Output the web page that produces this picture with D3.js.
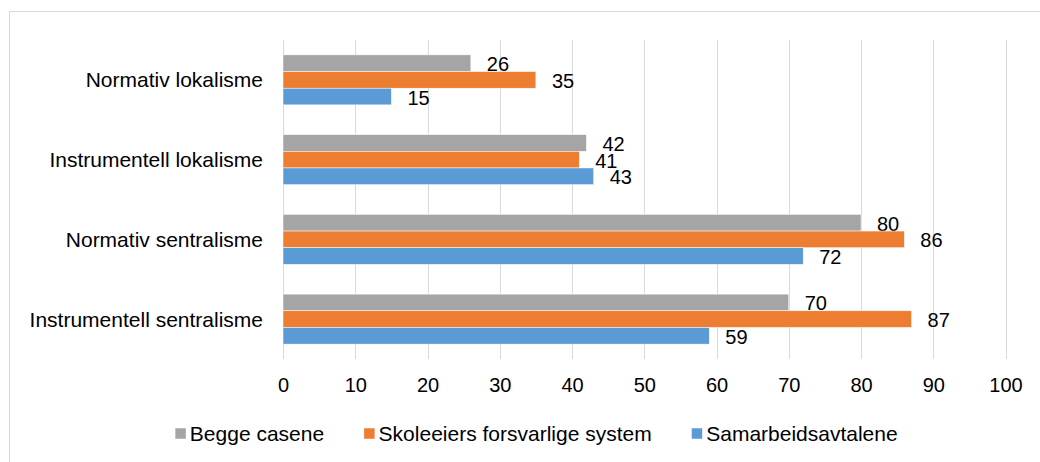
<!DOCTYPE html>
<html>
<head>
<meta charset="utf-8">
<script src="https://cdn.jsdelivr.net/npm/d3@7/dist/d3.min.js"></script>
<style>
  html, body { margin: 0; padding: 0; background: #fff; }
  svg { display: block; }
  text { font-family: "Liberation Sans", Arial, sans-serif; fill: #000; }
</style>
</head>
<body>
<svg id="chart" width="1040" height="462"></svg>
<script>
// Categories, top to bottom
const categories = [
  "Normativ lokalisme",
  "Instrumentell lokalisme",
  "Normativ sentralisme",
  "Instrumentell sentralisme"
];

// Series names, in the order the bars are stacked within each group (top to bottom)
const seriesNames = ["Begge casene", "Skoleeiers forsvarlige system", "Samarbeidsavtalene"];
const seriesColors = ["#A5A5A5", "#ED7D31", "#5B9BD5"];

// Values per series, aligned with categories
const beggeCasene = [26, 42, 80, 70];
const skoleeiers = [35, 41, 86, 87];
const samarbeid = [15, 43, 72, 59];

const xTicks = [0, 10, 20, 30, 40, 50, 60, 70, 80, 90, 100];

const seriesValues = [beggeCasene, skoleeiers, samarbeid];

const svg = d3.select("#chart");

// Chart-area frame (runs off the right and bottom edge)
svg.append("rect")
  .attr("x", 9.5).attr("y", 11.5)
  .attr("width", 1100).attr("height", 500)
  .attr("fill", "none")
  .attr("stroke", "#D9D9D9")
  .attr("stroke-width", 1);

const plot = { left: 283, right: 1005.5, top: 40, bottom: 359 };

const x = d3.scaleLinear().domain([0, 100]).range([plot.left, plot.right]);

const pad = 0.373;
const y = d3.scaleBand()
  .domain(categories)
  .range([plot.top, plot.bottom])
  .paddingInner(pad)
  .paddingOuter(pad / 2);

const ySub = d3.scaleBand()
  .domain(seriesNames)
  .range([0, y.bandwidth()])
  .padding(0);

// Vertical gridlines
svg.append("g")
  .selectAll("line")
  .data(xTicks)
  .join("line")
  .attr("x1", d => Math.round(x(d)) + 0.5)
  .attr("x2", d => Math.round(x(d)) + 0.5)
  .attr("y1", plot.top)
  .attr("y2", plot.bottom)
  .attr("stroke", "#D9D9D9")
  .attr("stroke-width", 1);

// X axis tick labels
const xAxis = d3.axisBottom(x).tickValues(xTicks).tickSize(0).tickPadding(0);
const gx = svg.append("g")
  .attr("transform", `translate(0, ${plot.bottom})`)
  .call(xAxis);
gx.select(".domain").remove();
gx.selectAll("text")
  .attr("dy", null)
  .attr("y", 33)
  .style("font-size", "20px")
  .style("font-family", "'Liberation Sans', Arial, sans-serif")
  .attr("fill", "#000");

// Category labels
const gy = svg.append("g")
  .attr("transform", `translate(${plot.left}, 0)`)
  .call(d3.axisLeft(y).tickSize(0).tickPadding(20));
gy.select(".domain").remove();
gy.selectAll("text")
  .attr("dy", null)
  .attr("y", 7.6)
  .style("font-size", "21px")
  .style("font-family", "'Liberation Sans', Arial, sans-serif")
  .attr("fill", "#000");

// Bars
const groups = svg.append("g")
  .selectAll("g")
  .data(categories)
  .join("g")
  .attr("transform", c => `translate(0, ${y(c)})`);

const rows = groups.selectAll("g.bar")
  .data((c, i) => seriesNames.map((s, k) => ({ series: s, k, value: seriesValues[k][i] })))
  .join("g")
  .attr("class", "bar");

rows.append("rect")
  .attr("x", x(0))
  .attr("y", d => ySub(d.series))
  .attr("width", d => x(d.value) - x(0))
  .attr("height", ySub.bandwidth())
  .attr("fill", d => seriesColors[d.k])
  .attr("stroke", "#fff")
  .attr("stroke-width", 0.5);

// Value labels at the bar ends
rows.append("text")
  .attr("x", d => x(d.value) + 16)
  .attr("y", d => ySub(d.series) + ySub.bandwidth() / 2 + 8)
  .style("font-size", "20px")
  .text(d => d.value);

// Legend
const legend = svg.append("g").attr("transform", "translate(0, 433.5)");
const items = legend.selectAll("g")
  .data(seriesNames)
  .join("g");
items.append("rect")
  .attr("x", 0).attr("y", -5.25)
  .attr("width", 10.5).attr("height", 10.5)
  .attr("fill", (d, i) => seriesColors[i]);
items.append("text")
  .attr("x", 14.5)
  .attr("y", 7.5)
  .style("font-size", "21px")
  .text(d => d);

// Lay the legend entries out side by side, centred
const gap = 40;
const widths = [];
items.each(function () {
  widths.push(14.5 + d3.select(this).select("text").node().getComputedTextLength());
});
const total = d3.sum(widths) + gap * (widths.length - 1);
let cx = 536.5 - total / 2;
items.each(function (d, i) {
  d3.select(this).attr("transform", `translate(${cx}, 0)`);
  cx += widths[i] + gap;
});
</script>
</body>
</html>
